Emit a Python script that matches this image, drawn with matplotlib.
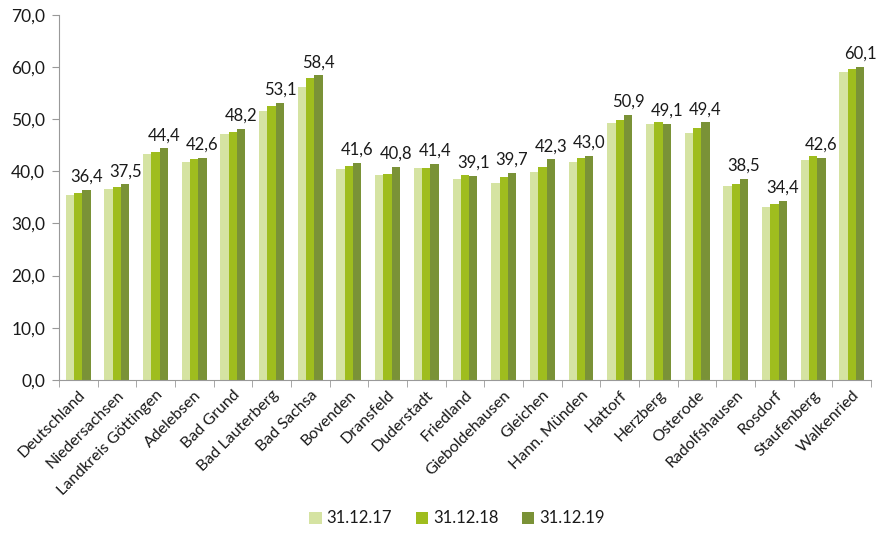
import numpy as np
import matplotlib.pyplot as plt
from matplotlib.ticker import FixedLocator

plt.rcParams['font.family'] = ['Lato', 'DejaVu Sans']

orte = ['Deutschland', 'Niedersachsen', 'Landkreis Göttingen', 'Adelebsen',
        'Bad Grund', 'Bad Lauterberg', 'Bad Sachsa', 'Bovenden', 'Dransfeld',
        'Duderstadt', 'Friedland', 'Gieboldehausen', 'Gleichen',
        'Hann. Münden', 'Hattorf', 'Herzberg', 'Osterode', 'Radolfshausen',
        'Rosdorf', 'Staufenberg', 'Walkenried']
jahre = ['31.12.17', '31.12.18', '31.12.19']

werte_17 = [35.5, 36.6, 43.3, 41.7, 47.2, 51.6, 56.1, 40.5, 39.3, 40.7, 38.5,
            37.8, 39.8, 41.7, 49.3, 49.1, 47.4, 37.1, 33.2, 42.2, 59.0]
werte_18 = [35.8, 37.0, 43.8, 42.4, 47.6, 52.5, 58.0, 41.1, 39.5, 40.7, 39.3,
            39.0, 40.8, 42.5, 49.9, 49.4, 48.4, 37.5, 33.7, 43.0, 59.7]
werte_19 = [36.4, 37.5, 44.4, 42.6, 48.2, 53.1, 58.4, 41.6, 40.8, 41.4, 39.1,
            39.7, 42.3, 43.0, 50.9, 49.1, 49.4, 38.5, 34.4, 42.6, 60.1]

farben = ['#d5e3a2', '#9fbd1e', '#7a9237']
textfarbe = '#1a1a1a'

fig = plt.figure(figsize=(8.79, 5.35), dpi=100)
ax = fig.add_axes([0.067, 0.29, 0.924, 0.682])

x = np.arange(len(orte))
breite = 0.215
for i, (serie, farbe) in enumerate(zip([werte_17, werte_18, werte_19], farben)):
    ax.bar(x + (i - 1) * breite, serie, breite, color=farbe, label=jahre[i])

# Werte nur für das letzte Jahr beschriften
for xi, v in zip(x, werte_19):
    ax.text(xi + breite, v + 1.0, f'{v:.1f}'.replace('.', ','),
            ha='center', va='bottom', fontsize=12, color=textfarbe)

ax.set_xlim(-0.5, len(orte) - 0.5)
ax.set_ylim(0, 70)
ax.set_yticks(np.arange(0, 71, 10))
ax.set_yticklabels([f'{t:.1f}'.replace('.', ',') for t in np.arange(0, 71, 10)],
                   fontsize=12.5, color=textfarbe)
ax.set_xticks(x)
ax.set_xticklabels(orte, rotation=45, ha='right', rotation_mode='anchor',
                   fontsize=11.5, color=textfarbe)
ax.tick_params(axis='x', which='major', length=0, pad=6)
ax.xaxis.set_minor_locator(FixedLocator(np.arange(-0.5, len(orte), 1.0)))
ax.tick_params(axis='x', which='minor', length=5, color='#999999')
ax.tick_params(axis='y', length=5, color='#999999', direction='out', pad=5)

for s in ['top', 'right']:
    ax.spines[s].set_visible(False)
for s in ['left', 'bottom']:
    ax.spines[s].set_color('#999999')

leg = fig.legend(loc='lower center', bbox_to_anchor=(0.52, -0.012), ncol=3,
                 frameon=False, fontsize=12, handlelength=0.75,
                 handleheight=0.75, handletextpad=0.3, columnspacing=1.4)
for t in leg.get_texts():
    t.set_color(textfarbe)

fig.savefig('out.png', dpi=100)
